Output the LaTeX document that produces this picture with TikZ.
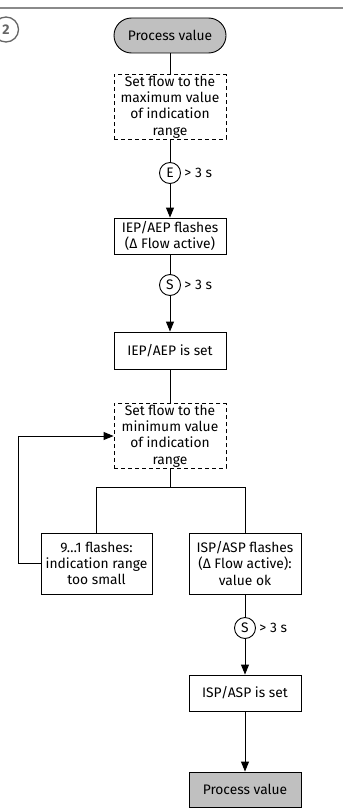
\documentclass[tikz,border=0pt]{standalone}
\usepackage{fontspec}
\setmainfont{Fira Sans}
\usetikzlibrary{arrows.meta}
\definecolor{boxgray}{HTML}{C0C0C0}
\definecolor{rulegray}{HTML}{8A8A8A}
\begin{document}
\begin{tikzpicture}[x=1pt,y=-1pt,
  font=\fontsize{13.8}{16.4}\selectfont,
  line width=0.9pt,
  box/.style={draw, rectangle, minimum width=112pt, align=center, inner sep=1pt},
  solidbox/.style={box},
  dashbox/.style={box, dash pattern=on 4pt off 3pt, minimum height=64pt},
  termbox/.style={box, fill=boxgray, minimum height=35pt},
  keycirc/.style={draw, circle, minimum size=21pt, inner sep=0pt},
  tlabel/.style={anchor=west, inner sep=0pt},
  arr/.style={-{Triangle[length=10pt,width=8pt]}}
]
\useasboundingbox (0,0) rectangle (357,808);
\draw[rulegray, line width=1.3pt] (0,8) -- (343,8);
\node[draw, circle, minimum size=25pt, inner sep=0pt, line width=1.3pt, draw=black!60, text=black!60, font=\fontsize{14}{14}\bfseries] (num) at (6,29.5) {2};

\node[termbox, rounded corners=17.5pt] (start) at (170,35.5) {Process value};
\node[dashbox] (d1) at (170,107) {Set flow to the\\maximum value\\of indication\\range};
\node[keycirc] (e1) at (170,173) {E};
\node[tlabel] (t1) at (184,173) {> 3 s};
\node[solidbox, minimum height=36pt] (f1) at (170,236) {IEP/AEP flashes\\(Δ Flow active)};
\node[keycirc] (s1) at (170,285) {S};
\node[tlabel] (t2) at (184,285) {> 3 s};
\node[solidbox, minimum height=37pt] (set1) at (170,350.5) {IEP/AEP is set};
\node[dashbox] (d2) at (170,436) {Set flow to the\\minimum value\\of indication\\range};
\coordinate (j) at (170,487);
\node[solidbox, minimum height=61pt, minimum width=111pt] (left) at (96.5,563.5) {9…1 flashes:\\indication range\\too small};
\node[solidbox, minimum height=61pt] (right) at (245,563.5) {ISP/ASP flashes\\(Δ Flow active):\\value ok};
\node[keycirc] (s2) at (245,628) {S};
\node[tlabel] (t3) at (259,628) {> 3 s};
\node[solidbox, minimum height=36pt] (set2) at (245,693) {ISP/ASP is set};
\node[termbox] (end) at (245,789.5) {Process value};
\coordinate (fb) at (18,563.5);

\draw (start) -- (d1);
\draw (d1) -- (e1);
\draw[arr] (e1) -- (f1);
\draw (f1) -- (s1);
\draw[arr] (s1) -- (set1);
\draw (set1) -- (d2);
\draw (d2.south) -- (j);
\draw (j) -| (left.north);
\draw (j) -| (right.north);
\draw[arr] (left.west) -- (fb) |- (d2.west);
\draw (right) -- (s2);
\draw[arr] (s2) -- (set2);
\draw[arr] (set2) -- (end);
\end{tikzpicture}
\end{document}
